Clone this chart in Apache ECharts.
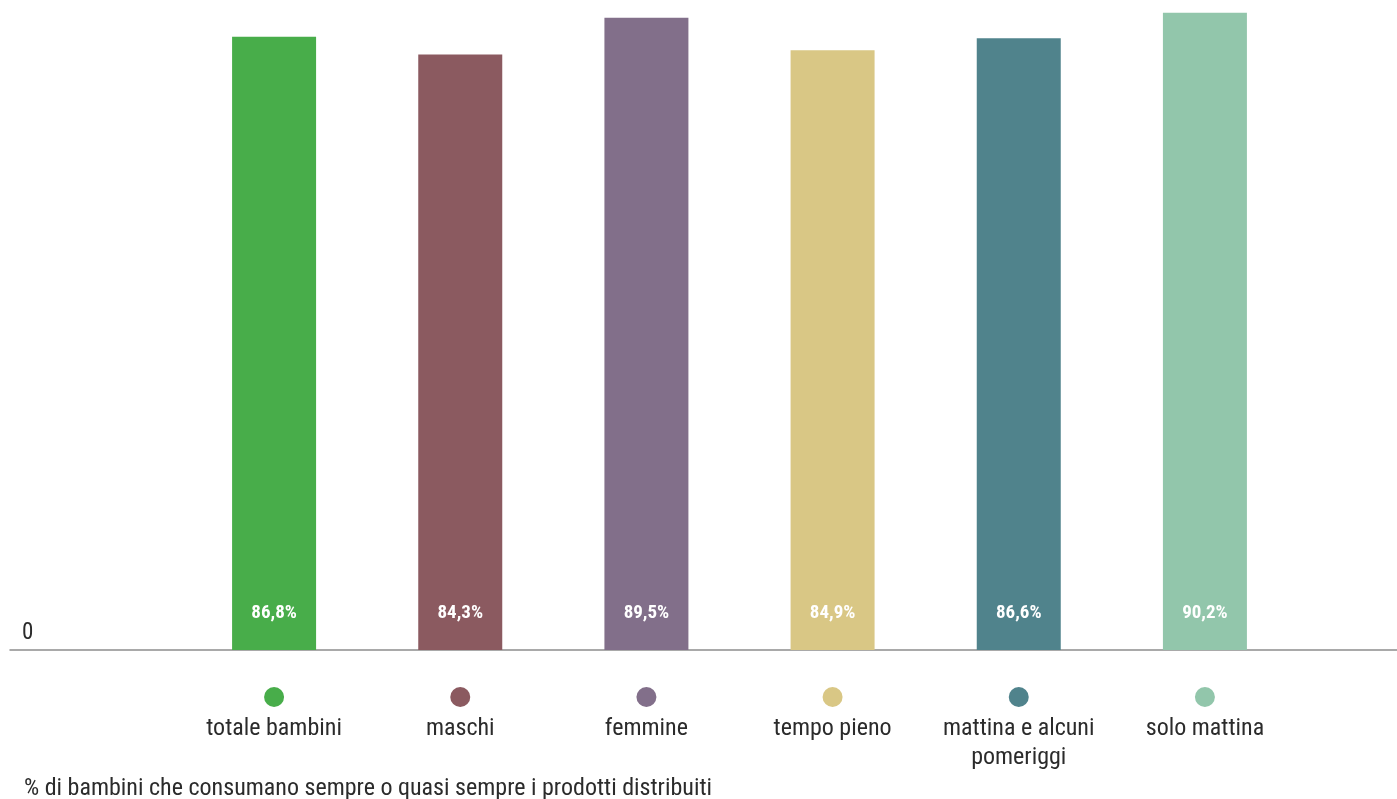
<!DOCTYPE html>
<html>
<head>
<meta charset="utf-8">
<script src="https://cdn.jsdelivr.net/npm/echarts@6/dist/echarts.min.js"></script>
<style>
html,body{margin:0;padding:0;background:#fff;}
#chart{width:1397px;height:799px;}
</style>
</head>
<body>
<div id="chart"></div>
<script>
const categories = ['totale bambini', 'maschi', 'femmine', 'tempo pieno', 'mattina e alcuni\npomeriggi', 'solo mattina'];
const values = [86.8, 84.3, 89.5, 84.9, 86.6, 90.2];
const colors = ['#48ad4a', '#8b5a60', '#826f8a', '#d9c785', '#50838c', '#92c6ab'];
const yTickLabels = ['0'];
const footnote = '% di bambini che consumano sempre o quasi sempre i prodotti distribuiti';

const FONT = '"Roboto Condensed", "Liberation Sans Narrow", "DejaVu Sans Condensed", sans-serif';

const rich = { t: { fontSize: 24, lineHeight: 29, color: '#2b2b2b', fontFamily: FONT, align: 'center' } };
colors.forEach((c, i) => {
  rich['d' + i] = { width: 20, height: 20, borderRadius: 10, backgroundColor: c, lineHeight: 34, align: 'center' };
});

const chart = echarts.init(document.getElementById('chart'), null, { renderer: 'canvas' });
chart.setOption({
  animation: false,
  backgroundColor: '#ffffff',
  textStyle: { fontFamily: FONT },
  title: {
    text: footnote,
    left: 19,
    top: 770,
    textStyle: { fontSize: 24, fontWeight: 'normal', color: '#2b2b2b', fontFamily: FONT, lineHeight: 28 }
  },
  grid: [
    { left: 181, right: 99, top: 0, bottom: 149 },
    { left: 10, right: 0, top: 0, bottom: 149 }
  ],
  xAxis: [
    {
      type: 'category', gridIndex: 0, data: categories,
      axisLine: { show: false }, axisTick: { show: false },
      axisLabel: {
        interval: 0, margin: 30,
        formatter: (v, i) => '{d' + i + '|}\n' + v.split('\n').map(s => '{t|' + s + '}').join('\n'),
        rich: rich
      }
    },
    {
      type: 'value', gridIndex: 1, min: 0, max: 1,
      axisLine: { show: true, lineStyle: { color: 'rgba(0,0,0,0.45)', width: 1.5 } },
      axisTick: { show: false }, axisLabel: { show: false }, splitLine: { show: false }
    }
  ],
  yAxis: [
    { type: 'value', gridIndex: 0, min: 0, max: 92, show: false },
    {
      type: 'value', gridIndex: 1, min: 0, max: 92, interval: 92,
      axisLine: { show: false }, axisTick: { show: false }, splitLine: { show: false },
      axisLabel: {
        inside: true, margin: 12, verticalAlign: 'bottom', align: 'left',
        padding: [0, 0, 6, 0], lineHeight: 22,
        fontSize: 23, color: '#2b2b2b', fontFamily: FONT,
        formatter: v => (v === 0 ? yTickLabels[0] : '')
      }
    }
  ],
  series: [
    {
      type: 'bar', xAxisIndex: 0, yAxisIndex: 0,
      barWidth: 84,
      data: values.map((v, i) => ({ value: v, itemStyle: { color: colors[i] } })),
      label: {
        show: true, position: 'insideBottom', distance: 27,
        color: '#ffffff', fontWeight: 'bold', fontSize: 19, fontFamily: FONT,
        formatter: p => p.value.toFixed(1).replace('.', ',') + '%'
      },
      z: 2
    },
    {
      type: 'line', xAxisIndex: 1, yAxisIndex: 1, data: [], silent: true
    }
  ]
});
</script>
</body>
</html>
